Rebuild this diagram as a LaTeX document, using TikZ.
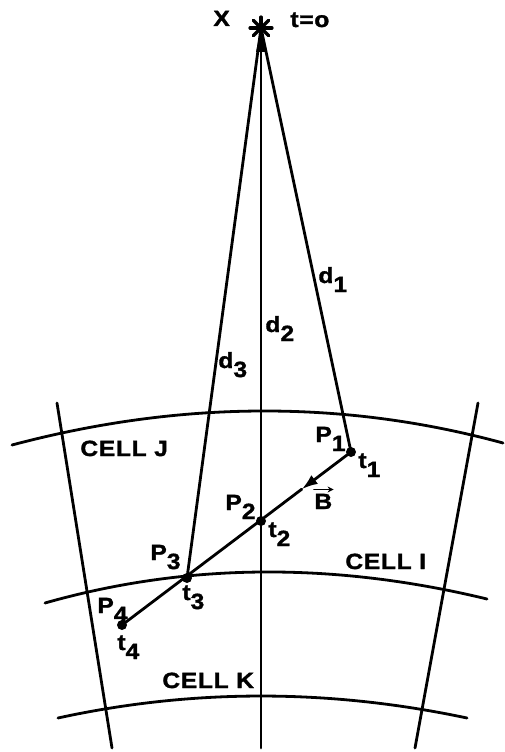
\documentclass[tikz,border=0pt]{standalone}
\usepackage{fontspec}
\newfontfamily\lab{Liberation Sans}[FakeStretch=1.12,LetterSpace=3,FakeBold=1.5]
\usetikzlibrary{calc,arrows.meta}
\newcommand\lsub[1]{\raisebox{-9pt}{#1}}
\begin{document}
\begin{tikzpicture}[x=1pt,y=-1pt,line width=2.8pt,line cap=round,
  dot/.style={circle,fill,inner sep=0pt,minimum size=10pt},
  lbl/.style={font=\lab\bfseries\fontsize{22}{24}\selectfont,inner sep=0pt,anchor=base west}]
\useasboundingbox (0,0) rectangle (505,752);
% points
\coordinate (X) at (261,28);
\node[dot] (P1) at (351,452) {};
\node[dot] (P2) at (261,521) {};
\node[dot] (P3) at (187,578) {};
\node[dot] (P4) at (122,625) {};
\coordinate (Vb) at (261,748);
% arcs
\coordinate (TA) at (12,445);  \coordinate (TB) at (503,443);
\coordinate (MA) at (45,603);  \coordinate (MB) at (487,599);
\coordinate (BA) at (58,718);  \coordinate (BB) at (467,718);
\draw (TA) .. controls (180.3,400.3) and (344,399.7) .. (TB);
\draw (MA) .. controls (185.7,563) and (333,561.7) .. (MB);
\draw (BA) .. controls (192.3,688.7) and (328.7,688.7) .. (BB);
% radial
\coordinate (LA) at (57,403); \coordinate (LB) at (112,748);
\coordinate (RA) at (478,403); \coordinate (RB) at (415,748);
\draw (LA) -- (LB);
\draw (RA) -- (RB);
% lines from X
\draw (X) -- (P1.center);
\draw (X) -- (Vb);
\draw (X) -- (P3.center);
% star
\foreach \a in {0,45,...,315} \draw[line width=3.2pt] (X) -- ++(\a:11);
\fill (X) -- ++(-5,24) -- ++(10,0) -- cycle;
% trajectory
\coordinate (AT) at ($(P1)!0.215!(P4)$);
\draw[-{Latex[length=16pt,width=11pt]}] (P1.center) -- (AT);
\draw (AT) -- (P4.center);
% labels
\node[lbl] (lX) at (212,26) {X};
\node[lbl] (lt0) at (289,27) {t=o};
\node[lbl] (ld1) at (317,283) {d\lsub{1}};
\node[lbl] (ld2) at (264,332) {d\lsub{2}};
\node[lbl] (ld3) at (217,368) {d\lsub{3}};
\node[lbl] (lP1) at (314,442) {P\lsub{1}};
\node[lbl] (lt1) at (357,468) {t\lsub{1}};
\node[lbl] (lP2) at (224,510) {P\lsub{2}};
\node[lbl] (lt2) at (267,537) {t\lsub{2}};
\node[lbl] (lP3) at (149,560) {P\lsub{3}};
\node[lbl] (lt3) at (181,600) {t\lsub{3}};
\node[lbl] (lP4) at (96,613) {P\lsub{4}};
\node[lbl] (lt4) at (116,650) {t\lsub{4}};
\node[lbl] (cJ) at (79,456) {CELL J};
\node[lbl] (cI) at (344,569) {CELL I};
\node[lbl] (cK) at (161,688) {CELL K};
\node[lbl] (Bv) at (313,509) {B};
\draw[line width=1.6pt,-{Stealth[length=6pt,width=6pt]}] ($(Bv.north west)+(1,-3)$) -- ($(Bv.north east)+(0,-3)$);
\end{tikzpicture}
\end{document}
